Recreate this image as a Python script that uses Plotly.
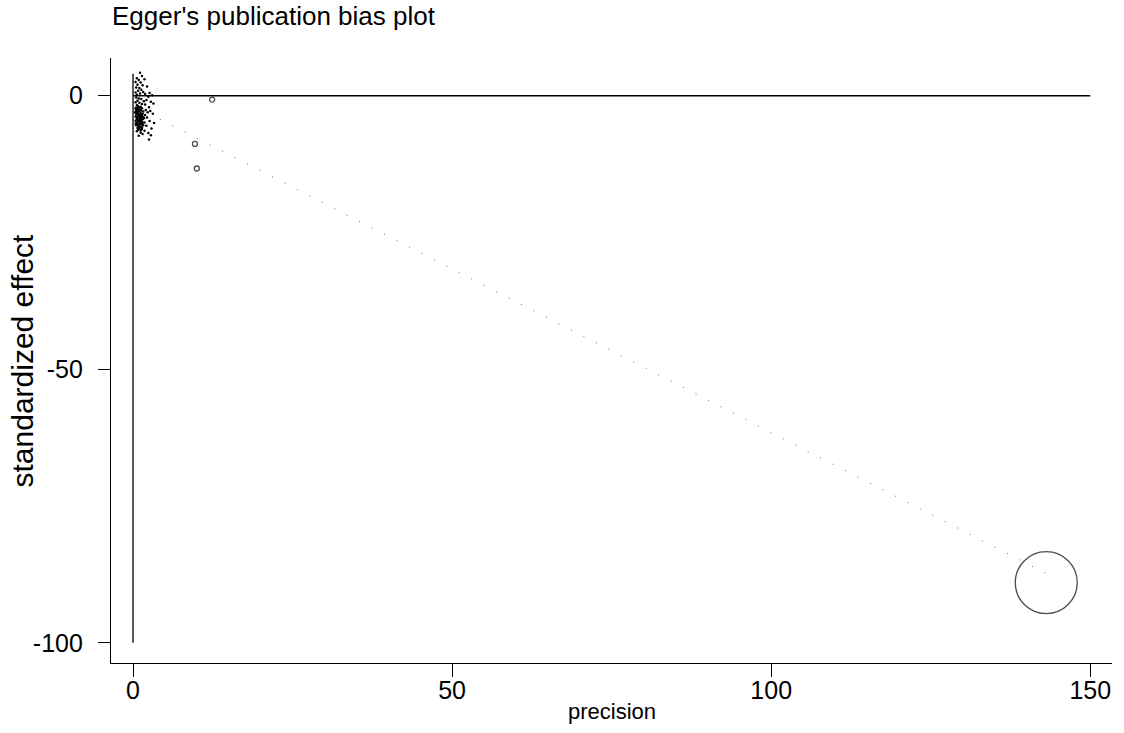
import plotly.graph_objects as go

# Small studies (cluster near the origin): precision, standardized effect
precision = [1.1,1.4,0.6,0.9,1.8,0.4,1.2,0.7,1.5,2.2,0.5,1.0,1.3,0.8,0.4,1.6,2.6,1.1,0.6,1.9,3.0,2.4,
             0.5,0.9,1.3,0.7,1.7,2.1,0.4,1.0,2.8,1.4,0.6,1.9,3.2,0.8,1.2,2.5,
             0.4,0.6,0.9,1.1,1.4,0.5,0.8,1.0,1.3,1.6,0.3,0.7,1.2,1.5,0.5,0.9,1.1,1.4,0.4,0.7,1.0,1.3,1.6,
             0.6,0.9,1.2,1.5,0.4,0.8,1.1,1.4,0.6,1.0,1.3,0.5,0.8,1.2,1.6,0.7,1.0,1.4,
             2.0,2.3,2.7,1.9,3.1,2.2,2.6,1.8,3.3,2.1,2.9,1.8,2.4,1.5,2.8,2.5,1.2,0.9,
             0.5,0.8,1.1,0.6,0.9,1.2,0.7,1.0,0.5,0.8,1.3,0.6,1.1,0.9,0.7,
             1.5,1.7,0.4,1.2,0.8,1.4,1.0,0.6]
std_effect = [4.2,3.6,3.2,2.9,3.0,2.5,2.4,2.0,1.9,1.7,1.5,1.4,1.1,0.9,0.6,0.7,0.5,0.4,0.2,0.3,0.1,-0.2,
              -0.3,-0.5,-0.6,-0.9,-1.0,-0.8,-1.2,-1.3,-1.1,-1.5,-1.7,-1.6,-1.4,-1.9,-2.0,-2.1,
              -2.3,-2.4,-2.2,-2.5,-2.3,-2.7,-2.8,-2.9,-2.7,-2.9,-3.0,-3.1,-3.2,-3.3,-3.4,-3.5,-3.6,-3.6,-3.8,-3.8,-3.9,-4.0,-3.9,
              -4.2,-4.3,-4.4,-4.3,-4.6,-4.7,-4.8,-4.7,-5.0,-5.1,-5.2,-5.4,-5.5,-5.6,-5.4,-5.9,-6.0,-6.1,
              -2.6,-3.0,-2.8,-3.5,-3.3,-4.0,-4.6,-4.9,-5.0,-5.5,-6.0,-6.4,-6.8,-7.0,-7.2,-8.0,-6.7,-7.3,
              -3.0,-3.3,-3.7,-4.0,-4.5,-4.9,-5.2,-5.7,-2.6,-2.5,-3.4,-4.4,-4.1,-5.3,-2.0,
              -5.0,-4.1,-5.1,-6.3,-6.2,-5.8,-4.6,-6.5]

# Larger studies
big_precision = [12.4, 9.7, 10.0, 143.1]
big_effect = [-0.7, -8.8, -13.3, -89.0]
big_size = [5, 5, 5, 62]

# Egger regression line endpoints
reg_x = [0.3, 143.1]
reg_y = [-1.94, -87.34]

# Reference lines
hline_x = [0, 150]
hline_y = [0, 0]
vline_x = [0, 0]
vline_y = [4.0, -100]

x_ticks = [0, 50, 100, 150]
x_tick_text = ["0", "50", "100", "150"]
y_ticks = [0, -50, -100]
y_tick_text = ["0", "-50", "-100"]

FONT = "Liberation Sans, Arial, sans-serif"

fig = go.Figure()
fig.add_trace(go.Scatter(x=hline_x, y=hline_y, mode="lines",
                         line=dict(color="black", width=1.3), hoverinfo="skip"))
fig.add_trace(go.Scatter(x=vline_x, y=vline_y, mode="lines",
                         line=dict(color="black", width=1.3), hoverinfo="skip"))
fig.add_trace(go.Scatter(x=reg_x, y=reg_y, mode="lines",
                         line=dict(color="#666666", width=1, dash="1px,13px"), hoverinfo="skip"))
fig.add_trace(go.Scatter(x=precision, y=std_effect, mode="markers",
                         marker=dict(symbol="circle", size=2.5, color="black",
                                     line=dict(width=0))))
fig.add_trace(go.Scatter(x=big_precision, y=big_effect, mode="markers",
                         marker=dict(symbol="circle-open", size=big_size, color="black",
                                     line=dict(width=1.3, color="black"))))

fig.update_layout(
    width=1124, height=733,
    margin=dict(l=111, r=12, t=58, b=70),
    paper_bgcolor="white", plot_bgcolor="white",
    showlegend=False,
    font=dict(family=FONT, color="black"),
    title=dict(text="Egger's publication bias plot", x=112/1124, xref="container",
               xanchor="left", y=1-7/733, yref="container", yanchor="top",
               font=dict(size=26, family=FONT, color="black")),
    xaxis=dict(range=[-3.45, 153.4], tickvals=x_ticks, ticktext=x_tick_text,
               ticks="outside", ticklen=13, ticklabelstandoff=-8,
               tickcolor="black", showline=True, linecolor="black", linewidth=1.2,
               showgrid=False, zeroline=False, tickfont=dict(size=25), automargin=False),
    yaxis=dict(range=[-103.7, 6.9], tickvals=y_ticks, ticktext=y_tick_text,
               ticks="outside", ticklen=12, ticklabelstandoff=10,
               tickcolor="black", showline=True, linecolor="black", linewidth=1.2,
               showgrid=False, zeroline=False, tickfont=dict(size=25), automargin=False),
    annotations=[
        dict(text="precision", xref="paper", yref="paper", x=0.5, y=-(711-663)/605,
             xanchor="center", yanchor="middle", showarrow=False,
             font=dict(size=22, family=FONT, color="black")),
        dict(text="standardized effect", xref="paper", yref="paper",
             x=(22-111)/1001, y=0.5, textangle=-90,
             xanchor="center", yanchor="middle", showarrow=False,
             font=dict(size=30, family=FONT, color="black")),
    ],
)

fig.write_html("out.html")
